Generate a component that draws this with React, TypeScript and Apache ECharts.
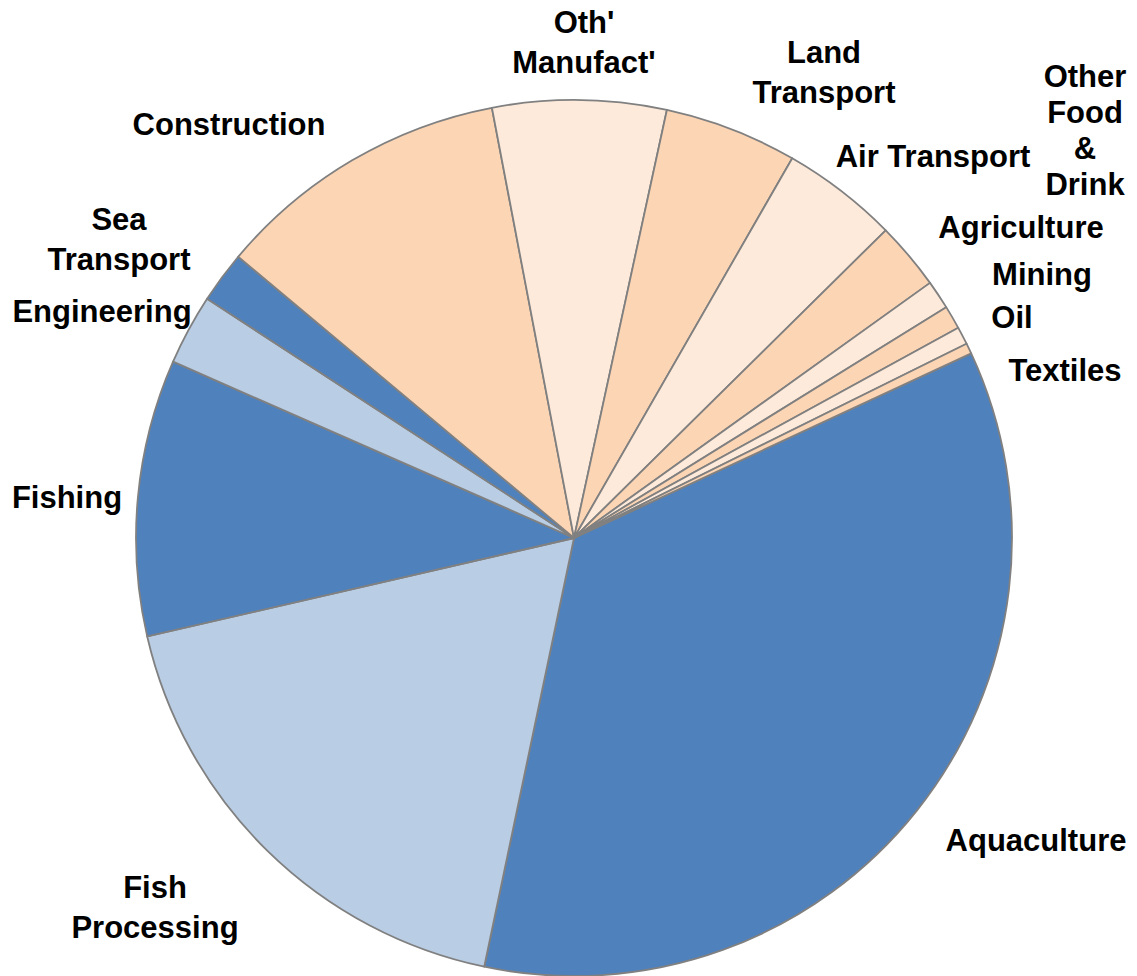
import React, { useEffect, useRef } from "react";
import * as echarts from "echarts";

const categories = [
  "Aquaculture",
  "Fish\nProcessing",
  "Fishing",
  "Engineering",
  "Sea\nTransport",
  "Construction",
  "Oth'\nManufact'",
  "Land\nTransport",
  "Air Transport",
  "Other\nFood\n&\nDrink",
  "Agriculture",
  "Mining",
  "Oil",
  "Textiles",
];

const shares = [35.2, 18.1, 10.2, 2.6, 1.9, 10.9, 6.4, 4.9, 4.3, 2.5, 1.06, 0.87, 0.65, 0.39];

const sliceColors = [
  "#4F81BD", "#B9CDE5", "#4F81BD", "#B9CDE5", "#4F81BD",
  "#FCD5B5", "#FDEADA", "#FCD5B5", "#FDEADA", "#FCD5B5",
  "#FDEADA", "#FCD5B5", "#FDEADA", "#FCD5B5",
];

// label block centres (px)
const labelPos: [number, number][] = [
  [1036, 840],
  [155, 907],
  [67, 497],
  [102, 311],
  [119, 239],
  [229, 124],
  [584, 42],
  [824, 72],
  [933, 156],
  [1085, 130],
  [1021, 227],
  [1042, 274],
  [1012, 317],
  [1065, 370],
];

export default function App() {
  const ref = useRef<HTMLDivElement>(null);
  useEffect(() => {
    if (!ref.current) return;
    const chart = echarts.init(ref.current, null, { renderer: "svg" });
    chart.setOption({
      animation: false,
      backgroundColor: "#ffffff",
      series: [
        {
          type: "pie",
          center: [574, 538],
          radius: 438,
          startAngle: 24.93,
          clockwise: true,
          avoidLabelOverlap: false,
          itemStyle: { borderColor: "#808080", borderWidth: 1.8 },
          label: {
            show: true,
            position: "outside",
            color: "#000000",
            fontFamily: "Liberation Sans, Arial, sans-serif",
            fontWeight: "bold",
            fontSize: 31,
            lineHeight: 40,
            align: "center",
          },
          labelLine: { show: false },
          emphasis: { disabled: true },
          labelLayout: (p: any) => {
            const pos = labelPos[p.dataIndex];
            return { x: pos[0], y: pos[1], align: "center", verticalAlign: "middle" };
          },
          data: categories.map((name, i) => ({
            name,
            value: shares[i],
            itemStyle: { color: sliceColors[i] },
            label: i === 9 ? { lineHeight: 36 } : undefined,
          })),
        },
      ],
    });
    return () => chart.dispose();
  }, []);
  return (
    <div
      ref={ref}
      style={{ position: "fixed", left: 0, top: 0, width: 1137, height: 976 }}
    />
  );
}
